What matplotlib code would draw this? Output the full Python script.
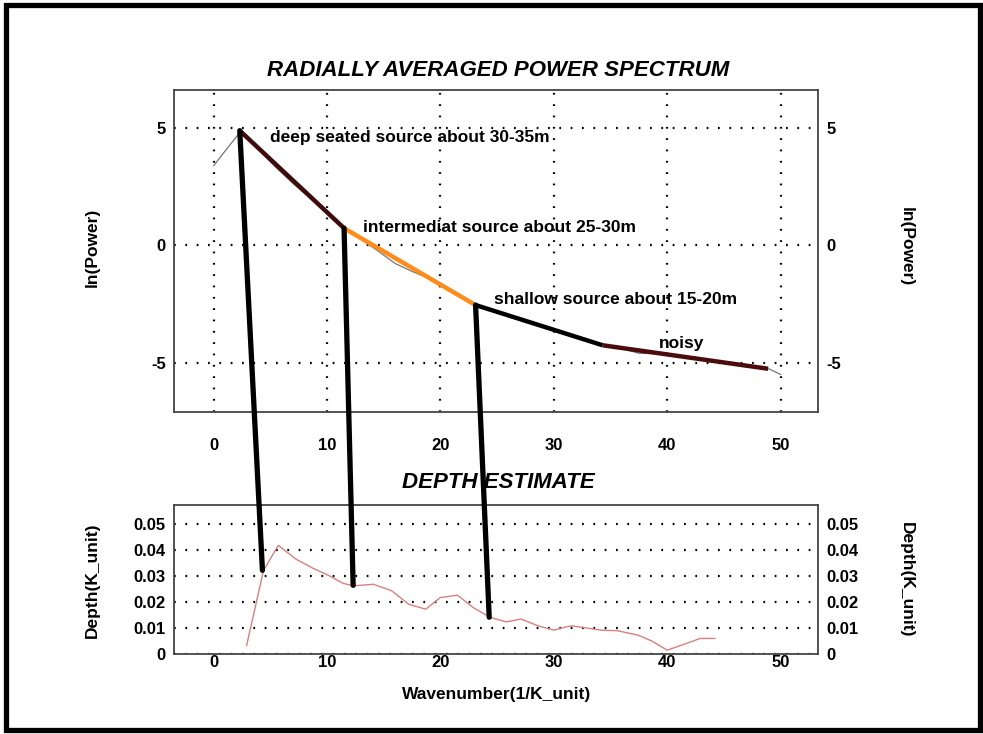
import matplotlib
matplotlib.use("Agg")
import matplotlib.pyplot as plt
from matplotlib.patches import ConnectionPatch, Rectangle

plt.rcParams['font.family'] = ['Liberation Sans', 'DejaVu Sans']
plt.rcParams['font.weight'] = 'bold'

# raw radially averaged spectrum
wn_raw = [0, 1, 2.4, 4, 5.5, 7, 8.5, 10, 11.5, 13, 14.5, 16, 17.5, 19, 20.5,
          22, 23.2, 25, 27, 29, 31, 33, 34.3, 36, 37.5, 39, 41, 43, 45, 47, 49, 50]
lnp_raw = [3.38, 4.0, 4.85, 4.05, 3.3, 2.62, 2.0, 1.38, 0.7, 0.25, -0.25, -0.78,
           -1.12, -1.42, -1.85, -2.24, -2.58, -2.84, -3.14, -3.45, -3.75, -4.06,
           -4.26, -4.4, -4.6, -4.62, -4.72, -4.86, -5.0, -5.13, -5.27, -5.5]

# straight-line fits (start, end) for each source band
fit_x = [(2.3, 11.5), (11.5, 23.1), (23.1, 34.3), (34.3, 48.9)]
fit_y = [(4.87, 0.72), (0.72, -2.55), (-2.55, -4.26), (-4.26, -5.26)]
fit_colors = ['#3d0b0b', '#ff8c1a', '#000000', '#4a0c0c']

labels = ['deep seated source about 30-35m', 'intermediat source about 25-30m',
          'shallow source about 15-20m', 'noisy']
label_x = [5.0, 13.2, 24.7, 39.3]
label_y = [4.57, 0.77, -2.3, -4.17]

# depth estimate curve
wn_depth = [2.9, 4.4, 5.7, 7.3, 8.8, 10.1, 11.4, 12.3, 14.1, 15.7, 17.2, 18.7,
            20.0, 21.5, 22.9, 24.4, 25.8, 27.1, 28.6, 30.0, 31.5, 34.2, 35.6,
            37.4, 38.6, 40.0, 41.4, 42.9, 44.2]
depth = [0.0032, 0.0323, 0.0419, 0.0365, 0.033, 0.0304, 0.0273, 0.0263, 0.0269,
         0.0244, 0.0192, 0.0173, 0.0218, 0.0227, 0.0179, 0.0141, 0.0124, 0.0135,
         0.0109, 0.0092, 0.0109, 0.0092, 0.009, 0.0073, 0.0051, 0.0015, 0.0036,
         0.006, 0.006]

# break points on the spectrum linked to the depth curve
brk_top = [(2.3, 4.87), (11.5, 0.72), (23.1, -2.55)]
brk_bot = [(4.3, 0.0323), (12.3, 0.0265), (24.3, 0.0142)]

x_ticks = [0, 10, 20, 30, 40, 50]
p_ticks = [-5, 0, 5]
d_ticks = [0, 0.01, 0.02, 0.03, 0.04, 0.05]
d_tick_labels = ['0', '0.01', '0.02', '0.03', '0.04', '0.05']

W, H = 983, 734
fig = plt.figure(figsize=(W / 100, H / 100), dpi=100)

def px_axes(l, t, r, b):
    return fig.add_axes([l / W, 1 - b / H, (r - l) / W, (b - t) / H])

ax1 = px_axes(174, 90, 818, 412)
ax2 = px_axes(174, 505, 818, 654)

grid_kw = dict(color='black', lw=1.6, linestyle=(0, (0.8, 4.3)))

for ax in (ax1, ax2):
    ax.set_xlim(-3.5, 53.3)
    ax.set_xticks(x_ticks)
    for s in ax.spines.values():
        s.set_color('#444444')
        s.set_linewidth(1.3)
    ax.tick_params(length=0, labelsize=12, labelright=True)
    for lab in ax.get_xticklabels() + ax.get_yticklabels():
        lab.set_fontweight('bold')

# top panel
ax1.set_ylim(-7.1, 6.6)
ax1.set_yticks(p_ticks)
ax1.set_yticklabels([str(v) for v in p_ticks])
ax1.tick_params(axis='x', pad=19)
ax1.tick_params(axis='y', pad=6)
ax1.grid(True, **grid_kw)
ax1.plot(wn_raw, lnp_raw, color='#777777', lw=0.9, zorder=2)
for xs, ys, c in zip(fit_x, fit_y, fit_colors):
    ax1.plot(xs, ys, color=c, lw=3.2, solid_capstyle='butt', zorder=3)
for t, x, y in zip(labels, label_x, label_y):
    ax1.text(x, y, t, fontsize=12.5, fontweight='bold', va='center', ha='left', zorder=4)

# bottom panel
ax2.set_ylim(0, 0.0575)
ax2.set_yticks(d_ticks)
ax2.set_yticklabels(d_tick_labels)
ax2.tick_params(axis='x', pad=1)
ax2.tick_params(axis='y', pad=6)
ax2.yaxis.grid(True, **grid_kw)
ax2.plot(wn_depth, depth, color='#d98080', lw=1.0, zorder=3)

for lab in ax1.get_xticklabels() + ax1.get_yticklabels() + ax2.get_xticklabels() + ax2.get_yticklabels():
    lab.set_fontweight('bold')

for (xa, ya), (xb, yb) in zip(brk_top, brk_bot):
    con = ConnectionPatch(xyA=(xa, ya), coordsA=ax1.transData,
                          xyB=(xb, yb), coordsB=ax2.transData,
                          color='black', lw=3.8, zorder=10)
    fig.add_artist(con)

title_kw = dict(fontsize=16, fontweight='bold', style='italic', ha='center', va='center')
fig.text(498 / W, 1 - 70 / H, 'RADIALLY AVERAGED POWER SPECTRUM', **title_kw)
fig.text(498 / W, 1 - 482 / H, 'DEPTH ESTIMATE', **title_kw)

lab_kw = dict(fontsize=12.5, fontweight='bold', ha='center', va='center')
fig.text(92 / W, 1 - 247 / H, 'ln(Power)', rotation=90, **lab_kw)
fig.text(906 / W, 1 - 247 / H, 'ln(Power)', rotation=270, **lab_kw)
fig.text(92 / W, 1 - 580 / H, 'Depth(K_unit)', rotation=90, **lab_kw)
fig.text(906 / W, 1 - 580 / H, 'Depth(K_unit)', rotation=270, **lab_kw)
fig.text(497 / W, 1 - 695 / H, 'Wavenumber(1/K_unit)', **lab_kw)

# outer frame
fig.add_artist(Rectangle((5.5 / W, 4 / H), 974.5 / W, (729.5 - 4) / H,
                         transform=fig.transFigure, fill=False,
                         edgecolor='black', lw=3.8))

fig.savefig('out.png', dpi=100)
